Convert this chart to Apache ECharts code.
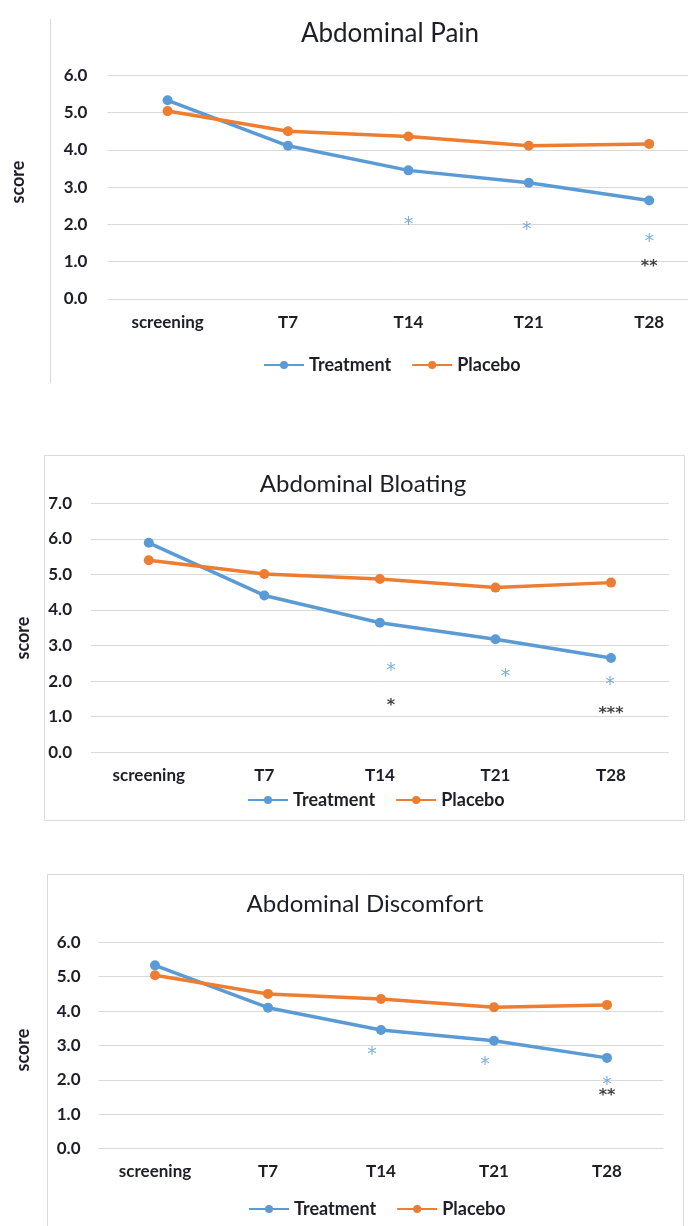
<!DOCTYPE html>
<html><head><meta charset="utf-8">
<script src="https://cdn.jsdelivr.net/npm/echarts@6/dist/echarts.min.js"></script>
<style>html,body{margin:0;padding:0;background:#fff}#c{width:688px;height:1226px}</style>
</head><body><div id="c"></div>
<script>
// ---------- data ----------
const categories = ['screening', 'T7', 'T14', 'T21', 'T28'];
const yTicksPain = [0, 1, 2, 3, 4, 5, 6];
const yTicksBloating = [0, 1, 2, 3, 4, 5, 6, 7];
const yTicksDiscomfort = [0, 1, 2, 3, 4, 5, 6];

const painTreatment = [5.33, 4.11, 3.45, 3.12, 2.64];
const painPlacebo = [5.04, 4.50, 4.36, 4.11, 4.16];
const painStarsBaseline = [null, null, 2.12, 1.97, 1.65];
const painStarsBaselineText = ['', '', '*', '*', '*'];
const painStarsPlacebo = [null, null, null, null, 0.96];
const painStarsPlaceboText = ['', '', '', '', '**'];

const bloatTreatment = [5.89, 4.41, 3.64, 3.18, 2.65];
const bloatPlacebo = [5.40, 5.01, 4.87, 4.63, 4.77];
const bloatStarsBaseline = [null, null, 2.41, 2.24, 2.01];
const bloatStarsBaselineText = ['', '', '*', '*', '*'];
const bloatStarsPlacebo = [null, null, 1.42, null, 1.19];
const bloatStarsPlaceboText = ['', '', '*', '', '***'];

const discTreatment = [5.33, 4.10, 3.45, 3.14, 2.64];
const discPlacebo = [5.04, 4.50, 4.35, 4.11, 4.18];
const discStarsBaseline = [null, null, 2.87, 2.58, 1.98];
const discStarsBaselineText = ['', '', '*', '*', '*'];
const discStarsPlacebo = [null, null, null, null, 1.64];
const discStarsPlaceboText = ['', '', '', '', '**'];

// ---------- styling / layout ----------
const FONT = 'Lato';
const STARFONT = 'DejaVu Sans';
const TXT = '#1e1e28';
const BLUE = '#5B9BD5';
const ORANGE = '#ED7D31';
const GRIDC = '#D9D9D9';

const panels = [
  { title: 'Abdominal Pain', titleX: 390, titleTop: 21, titleSize: 26,
    grid: { left: 107.4, top: 75.3, width: 602, height: 223.7 }, ticks: yTicksPain,
    xMargin: 15, yMargin: 20, legendLeft: 263, legendTop: 356,
    treat: painTreatment, plac: painPlacebo,
    sb: painStarsBaseline, sbt: painStarsBaselineText, sbdx: [0, 0, 0, -2, 0],
    sp: painStarsPlacebo, spt: painStarsPlaceboText, spdx: [0, 0, 0, 0, 0],
    scoreX: 18, scoreY: 182 },
  { title: 'Abdominal Bloating', titleX: 363, titleTop: 472, titleSize: 24,
    grid: { left: 91, top: 503.3, width: 577.8, height: 249 }, ticks: yTicksBloating,
    xMargin: 15, yMargin: 19, legendLeft: 247, legendTop: 791,
    treat: bloatTreatment, plac: bloatPlacebo,
    sb: bloatStarsBaseline, sbt: bloatStarsBaselineText, sbdx: [0, 0, 11, 10, -1],
    sp: bloatStarsPlacebo, spt: bloatStarsPlaceboText, spdx: [0, 0, 11, 0, 0],
    scoreX: 23, scoreY: 638 },
  { title: 'Abdominal Discomfort', titleX: 365, titleTop: 892, titleSize: 24,
    grid: { left: 98.5, top: 942.3, width: 565, height: 206.4 }, ticks: yTicksDiscomfort,
    xMargin: 14.5, yMargin: 18, legendLeft: 248, legendTop: 1200,
    treat: discTreatment, plac: discPlacebo,
    sb: discStarsBaseline, sbt: discStarsBaselineText, sbdx: [0, 0, -9, -9, 0],
    sp: discStarsPlacebo, spt: discStarsPlaceboText, spdx: [0, 0, 0, 0, 0],
    scoreX: 23, scoreY: 1050 }
];

const titles = [], grids = [], xAxes = [], yAxes = [], series = [], legends = [];
const graphics = [
  { type: 'line', shape: { x1: 50.5, y1: 19, x2: 50.5, y2: 383 }, style: { stroke: GRIDC, lineWidth: 1 } },
  { type: 'rect', shape: { x: 44.5, y: 455.5, width: 640, height: 365 }, style: { fill: 'transparent', stroke: GRIDC, lineWidth: 1 } },
  { type: 'rect', shape: { x: 47.5, y: 874.5, width: 636, height: 400 }, style: { fill: 'transparent', stroke: GRIDC, lineWidth: 1 } }
];

function starSeries(i, vals, texts, dx, color, size, weight) {
  const data = [];
  vals.forEach((v, k) => {
    if (v !== null) data.push({
      value: [k, v],
      label: { formatter: texts[k], offset: [dx[k], size * 0.25] }
    });
  });
  return {
    type: 'scatter', xAxisIndex: i, yAxisIndex: i, symbolSize: 0, silent: true, z: 5,
    data,
    label: { show: true, position: 'inside', color, fontSize: size, fontWeight: weight, fontFamily: STARFONT }
  };
}

panels.forEach((p, i) => {
  titles.push({
    text: p.title, left: p.titleX, top: p.titleTop, textAlign: 'center', padding: 0,
    textStyle: { fontFamily: FONT, fontSize: p.titleSize, fontWeight: 'normal', color: TXT }
  });
  grids.push(Object.assign({ containLabel: false, outerBoundsMode: 'none' }, p.grid));
  xAxes.push({
    type: 'category', gridIndex: i, data: categories, boundaryGap: true,
    axisLine: { show: false }, axisTick: { show: false },
    axisLabel: { margin: p.xMargin, fontFamily: FONT, fontSize: 17, fontWeight: 'bold', color: TXT }
  });
  yAxes.push({
    type: 'value', gridIndex: i, min: p.ticks[0], max: p.ticks[p.ticks.length - 1], interval: 1,
    axisLine: { show: false }, axisTick: { show: false },
    splitLine: { lineStyle: { color: GRIDC, width: 1 } },
    axisLabel: { margin: p.yMargin, fontFamily: FONT, fontSize: 17, fontWeight: 'bold', color: TXT,
      formatter: v => v.toFixed(1) }
  });
  series.push({
    name: 'Treatment', type: 'line', xAxisIndex: i, yAxisIndex: i, data: p.treat,
    symbol: 'circle', symbolSize: 10, color: BLUE,
    lineStyle: { width: 3.5, color: BLUE }, itemStyle: { color: BLUE }
  });
  series.push({
    name: 'Placebo', type: 'line', xAxisIndex: i, yAxisIndex: i, data: p.plac,
    symbol: 'circle', symbolSize: 10, color: ORANGE,
    lineStyle: { width: 3.5, color: ORANGE }, itemStyle: { color: ORANGE }
  });
  series.push(starSeries(i, p.sb, p.sbt, p.sbdx, BLUE, 19, 'normal'));
  series.push(starSeries(i, p.sp, p.spt, p.spdx, '#111', 16, 'bold'));
  legends.push({
    data: ['Treatment', 'Placebo'], left: p.legendLeft, top: p.legendTop, padding: 0,
    itemWidth: 40, itemHeight: 10, itemGap: 20, selectedMode: false,
    textStyle: { fontFamily: FONT, fontSize: 18, fontWeight: 'bold', color: TXT }
  });
  graphics.push({
    type: 'text', x: p.scoreX, y: p.scoreY, rotation: Math.PI / 2,
    style: { text: 'score', font: 'bold 18px ' + FONT, fill: TXT, textAlign: 'center', textVerticalAlign: 'middle' }
  });
});

const chart = echarts.init(document.getElementById('c'), null, { renderer: 'canvas' });
chart.setOption({
  animation: false,
  backgroundColor: '#fff',
  title: titles, grid: grids, xAxis: xAxes, yAxis: yAxes, series, legend: legends,
  graphic: graphics
});
</script></body></html>
